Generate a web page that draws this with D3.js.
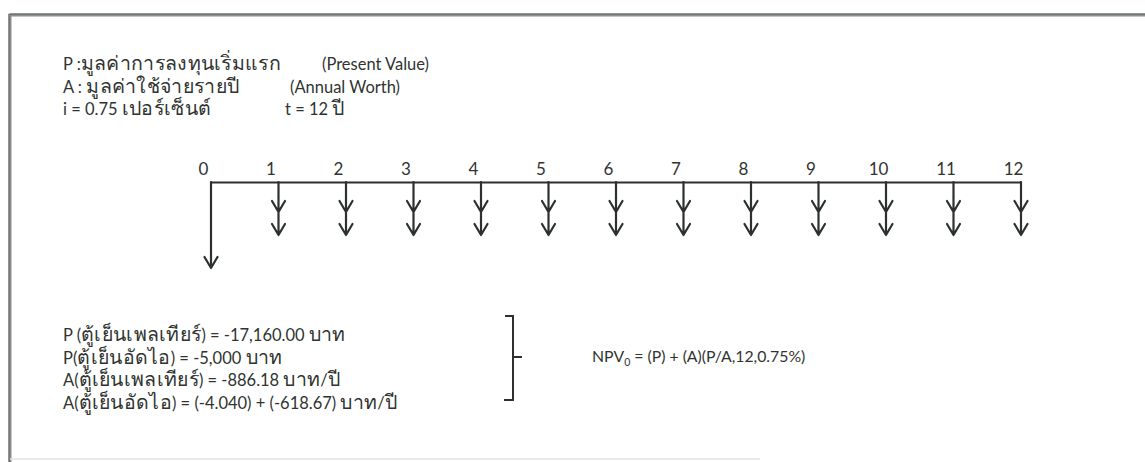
<!DOCTYPE html>
<html><head><meta charset="utf-8">
<script src="https://cdn.jsdelivr.net/npm/d3@7"></script>
<style>
html,body{margin:0;padding:0;background:#fff;}
svg text{font-family:Lato,"Noto Sans",sans-serif;fill:#2f3431;}
</style></head>
<body><svg id="c" width="1145" height="462"></svg>
<script>
// ---- data ----
const periods = [0,1,2,3,4,5,6,7,8,9,10,11,12];
const flowKind = ["P","A","A","A","A","A","A","A","A","A","A","A","A"];
const headerMain = ["P :มูลค่าการลงทุนเริ่มแรก", "A : มูลค่าใช้จ่ายรายปี", "i = 0.75 เปอร์เซ็นต์"];
const headerNote = ["(Present Value)", "(Annual Worth)", "t = 12 ปี"];
const valueLines = [
  "P (ตู้เย็นเพลเทียร์) = -17,160.00 บาท",
  "P(ตู้เย็นอัดไอ) = -5,000 บาท",
  "A(ตู้เย็นเพลเทียร์) = -886.18 บาท/ปี",
  "A(ตู้เย็นอัดไอ) = (-4.040) + (-618.67) บาท/ปี"
];
const formulaLead = "NPV";
const formulaSub = "0";
const formulaTail = " = (P) + (A)(P/A,12,0.75%)";

// ---- drawing ----
const svg = d3.select("#c");
const ink = "#2c312e";
const fs = 16.5, thaiFs = 19.5;

// split a string into Thai / non-Thai runs so Thai can be sized separately
function runs(sel, str) {
  const parts = str.match(/[\u0E00-\u0E7F]+|[^\u0E00-\u0E7F]+/g) || [];
  parts.forEach(p => {
    const thai = /[\u0E00-\u0E7F]/.test(p);
    sel.append("tspan").attr("font-size", thai ? thaiFs : fs)
      .attr("letter-spacing", thai ? 0.3 : 0).text(p);
  });
}

// frame
svg.append("path").attr("d","M10,462 V15 H1145").attr("fill","none")
  .attr("stroke","#8a8f8c").attr("stroke-width",3);
svg.append("line").attr("x1",10).attr("x2",1145).attr("y1",14).attr("y2",14).attr("stroke","#5e625f").attr("stroke-width",1);
svg.append("line").attr("x1",9).attr("x2",9).attr("y1",14).attr("y2",462).attr("stroke","#5e625f").attr("stroke-width",1);
svg.append("line").attr("x1",10).attr("x2",760).attr("y1",459).attr("y2",459).attr("stroke","#e2e4e3").attr("stroke-width",1.5);

// header
const hx = 63, hy0 = 70, hdy = 22.5;
svg.selectAll("text.hm").data(headerMain).join("text").attr("class","hm")
  .attr("x",hx).attr("y",(d,i)=>hy0+i*hdy).each(function(d){ runs(d3.select(this), d); });
const noteX = [322,290,285];
svg.selectAll("text.hn").data(headerNote).join("text").attr("class","hn")
  .attr("x",(d,i)=>noteX[i]).attr("y",(d,i)=>hy0+i*hdy).each(function(d){ runs(d3.select(this), d); });

// timeline
const y0 = 182;
const x = d3.scaleLinear().domain([0,12]).range([211,1021]);
const axis = d3.axisTop(x).tickValues(periods).tickSize(0).tickSizeOuter(0).tickPadding(7).tickFormat(d3.format("d"));
const ax = svg.append("g").attr("transform",`translate(0,${y0})`).call(axis);
ax.select(".domain").attr("stroke",ink).attr("stroke-width",2.2);
ax.selectAll(".tick text").attr("font-size",17).attr("dx",-8)
  .style("font-family",'Lato,"Noto Sans",sans-serif').attr("fill","#3a3f3c");

const len = d3.scaleOrdinal().domain(["P","A"]).range([86,53]);
const hw = 6.5, hh = 11;
const g = svg.append("g").attr("fill","none").attr("stroke",ink).attr("stroke-width",2.2)
  .attr("stroke-linecap","round").attr("stroke-linejoin","round");
g.selectAll("path").data(periods).join("path").attr("d",(p,i)=>{
  const cx = x(p), L = len(flowKind[i]), tip = y0+L;
  let d = `M${cx},${y0}V${tip}M${cx-hw},${tip-hh}L${cx},${tip}L${cx+hw},${tip-hh}`;
  if (flowKind[i]==="A") {
    const t2 = tip-23;
    d += `M${cx-hw},${t2-hh}L${cx},${t2}L${cx+hw},${t2-hh}`;
  }
  return d;
});

// value lines
const by0 = 341, bdy = 22.5;
svg.selectAll("text.vl").data(valueLines).join("text").attr("class","vl")
  .attr("x",63).attr("y",(d,i)=>by0+i*bdy).each(function(d){ runs(d3.select(this), d); });

// bracket
const bx = 513, bTop = 316, bMid = 357, bBot = 400;
svg.append("path").attr("d",`M${bx-8},${bTop}H${bx}V${bBot}H${bx-9}M${bx},${bMid}H${bx+9}`)
  .attr("fill","none").attr("stroke",ink).attr("stroke-width",2);

// formula
const ft = svg.append("text").attr("x",592).attr("y",362).attr("font-size",15.8);
ft.append("tspan").text(formulaLead);
ft.append("tspan").attr("font-size",10.5).attr("dy",4).text(formulaSub);
ft.append("tspan").attr("dy",-4).text(formulaTail);
</script></body></html>
